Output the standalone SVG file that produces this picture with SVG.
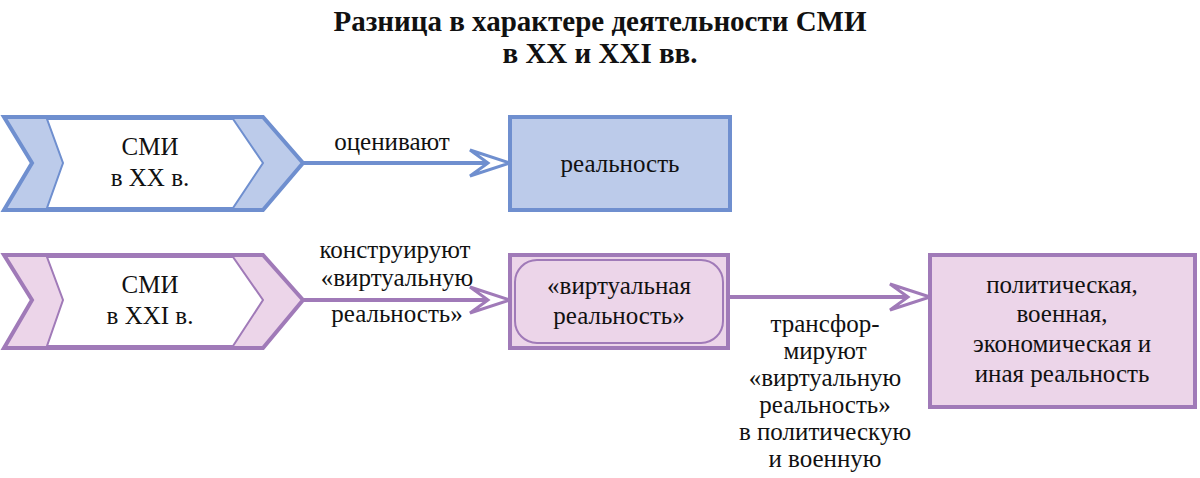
<svg xmlns="http://www.w3.org/2000/svg" width="1200" height="478" viewBox="0 0 1200 478">
<style>
text{font-family:'Liberation Serif','DejaVu Serif',serif;font-size:25px;fill:#111;text-anchor:middle}
.t{font-weight:bold;font-size:29px}
.b{stroke:#6f8fcf;stroke-width:4}
.p{stroke:#a07ab8;stroke-width:4}
</style>
<rect width="1200" height="478" fill="#fff"/>
<text class="t" x="600" y="31">Разница в характере деятельности СМИ</text>
<text class="t" x="600" y="63">в XX и XXI вв.</text>
<g id="connectors">
<line class="b" x1="303" y1="163" x2="495" y2="163"/>
<path d="M510,163 L470,150 L488,163 L470,176 Z" fill="#fff" stroke="#6f8fcf" stroke-width="3"/>
<line class="p" x1="303" y1="300" x2="495" y2="300"/>
<path d="M510,300 L470,287 L488,300 L470,313 Z" fill="#fff" stroke="#a07ab8" stroke-width="3"/>
<line class="p" x1="728" y1="297" x2="912" y2="297"/>
<path d="M930,297 L890,284 L908,297 L890,310 Z" fill="#fff" stroke="#a07ab8" stroke-width="3"/>
<text x="392" y="150">оценивают</text>
<text x="395" y="258">конструируют</text>
<text x="397" y="286">«виртуальную</text>
<text x="397" y="322">реальность»</text>
<text x="825" y="332">трансфор-</text>
<text x="825" y="359">мируют</text>
<text x="825" y="386">«виртуальную</text>
<text x="825" y="413">реальность»</text>
<text x="825" y="440">в политическую</text>
<text x="825" y="467">и военную</text>
</g>
<g id="n1">
<polygon class="b" points="4,117 263,117 303,163 263,210 4,210 32,163" fill="#bccbea"/>
<polygon points="47,119 233,119 263,163 233,208 47,208 63,163" fill="#fff" stroke="#6f8fcf" stroke-width="2"/>
<text x="150" y="155">СМИ</text>
<text x="150" y="186">в XX в.</text>
</g>
<g id="n2">
<rect class="b" x="510" y="117" width="220" height="93" fill="#bccbea"/>
<text x="620" y="172">реальность</text>
</g>
<g id="n3">
<polygon class="p" points="4,255 263,255 303,300 263,348 4,348 32,300" fill="#ecd5e9"/>
<polygon points="47,257 233,257 263,300 233,346 47,346 63,300" fill="#fff" stroke="#a07ab8" stroke-width="2"/>
<text x="150" y="293">СМИ</text>
<text x="150" y="324">в XXI в.</text>
</g>
<g id="n4">
<rect class="p" x="510" y="255" width="218" height="93" fill="#ecd5e9"/>
<rect x="515" y="260" width="208" height="83" rx="22" fill="#ecd5e9" stroke="#a07ab8" stroke-width="2"/>
<text x="619" y="294">«виртуальная</text>
<text x="619" y="324">реальность»</text>
</g>
<g id="n5">
<rect class="p" x="930" y="255" width="265" height="152" fill="#ecd5e9"/>
<text x="1062" y="293">политическая,</text>
<text x="1062" y="322">военная,</text>
<text x="1062" y="352">экономическая и</text>
<text x="1062" y="382">иная реальность</text>
</g>
</svg>
